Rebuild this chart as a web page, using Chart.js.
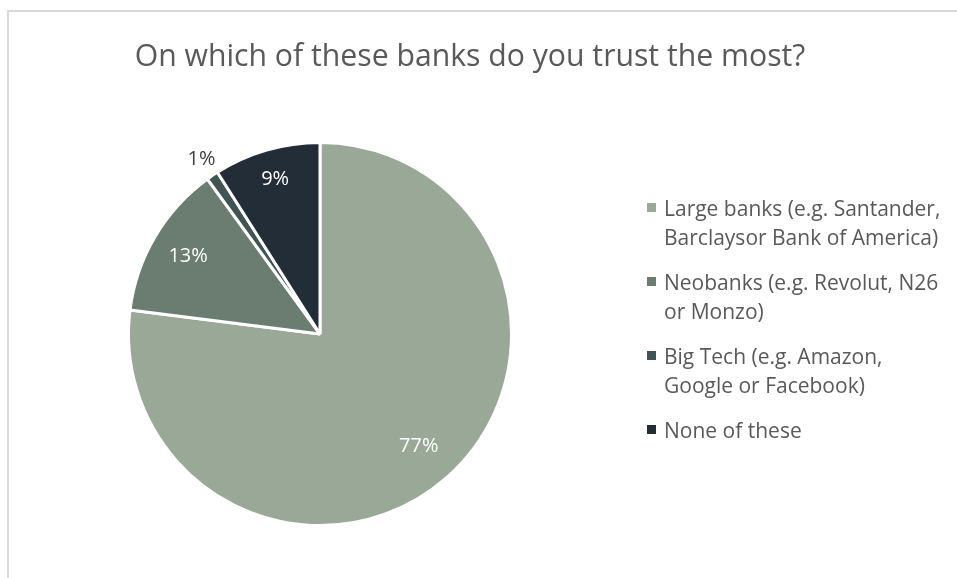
<!DOCTYPE html>
<html>
<head>
<meta charset="utf-8">
<script src="https://cdn.jsdelivr.net/npm/chart.js@4.4.0/dist/chart.umd.min.js"></script>
<style>
  html, body { margin: 0; padding: 0; background: #fff; }
  #wrap { position: relative; width: 957px; height: 578px; overflow: hidden; }
  #frame { position: absolute; left: 7px; top: 10px; width: 1100px; height: 700px;
           border-left: 2px solid #d9d9d9; border-top: 2px solid #d9d9d9; box-sizing: border-box; }
  canvas { position: absolute; left: 0; top: 0; }
</style>
</head>
<body>
<div id="wrap">
  <div id="frame"></div>
  <canvas id="c" width="957" height="578"></canvas>
</div>
<script>
const titleText = 'On which of these banks do you trust the most?';
const categories = [
  'Large banks (e.g. Santander, Barclaysor Bank of America)',
  'Neobanks (e.g. Revolut, N26 or Monzo)',
  'Big Tech (e.g. Amazon, Google or Facebook)',
  'None of these'
];
// legend text broken into the lines it is shown on
const legendLines = [
  ['Large banks (e.g. Santander,', 'Barclaysor Bank of America)'],
  ['Neobanks (e.g. Revolut, N26', 'or Monzo)'],
  ['Big Tech (e.g. Amazon,', 'Google or Facebook)'],
  ['None of these']
];
const shares = [77, 13, 1, 9];
const sliceColors = ['#9aa898', '#6b7d71', '#405553', '#232d38'];

const FONT = '"Open Sans", Lato, sans-serif';
const TEXT = '#595959';

const overlay = {
  id: 'overlay',
  afterDraw(chart) {
    const ctx = chart.ctx;
    ctx.save();
    // title
    ctx.fillStyle = TEXT;
    ctx.font = '30.2px ' + FONT;
    ctx.textAlign = 'center';
    ctx.textBaseline = 'alphabetic';
    ctx.fillText(titleText, 470, 66);

    // value labels
    const meta = chart.getDatasetMeta(0);
    meta.data.forEach((arc, i) => {
      const p = arc.getProps(['x', 'y', 'startAngle', 'endAngle', 'outerRadius'], true);
      const mid = (p.startAngle + p.endAngle) / 2;
      const small = shares[i] < 3;
      const r = p.outerRadius * (small ? 1.1 : (i === 0 ? 0.78 : (i === 3 ? 0.84 : 0.8)));
      const x = p.x + Math.cos(mid) * r;
      const y = p.y + Math.sin(mid) * r;
      ctx.font = '20px ' + FONT;
      ctx.fillStyle = small ? '#404040' : '#ffffff';
      ctx.textAlign = 'center';
      ctx.textBaseline = 'middle';
      ctx.fillText(shares[i] + '%', x, y);
    });

    // legend
    ctx.textAlign = 'left';
    ctx.textBaseline = 'alphabetic';
    ctx.font = '21px ' + FONT;
    const base = [216, 290, 364, 438];
    legendLines.forEach((lines, i) => {
      ctx.fillStyle = sliceColors[i];
      ctx.fillRect(647, base[i] - 13, 9, 9);
      ctx.fillStyle = TEXT;
      lines.forEach((ln, j) => ctx.fillText(ln, 664, base[i] + j * 28.5));
    });
    ctx.restore();
  }
};

new Chart(document.getElementById('c'), {
  type: 'pie',
  data: {
    labels: categories,
    datasets: [{
      data: shares,
      backgroundColor: sliceColors,
      borderColor: '#ffffff',
      borderWidth: 3
    }]
  },
  options: {
    responsive: false,
    animation: false,
    layout: { padding: { left: 127, top: 141, right: 444, bottom: 51 } },
    plugins: {
      legend: { display: false },
      title: { display: false },
      tooltip: { enabled: false }
    }
  },
  plugins: [overlay]
});
</script>
</body>
</html>
